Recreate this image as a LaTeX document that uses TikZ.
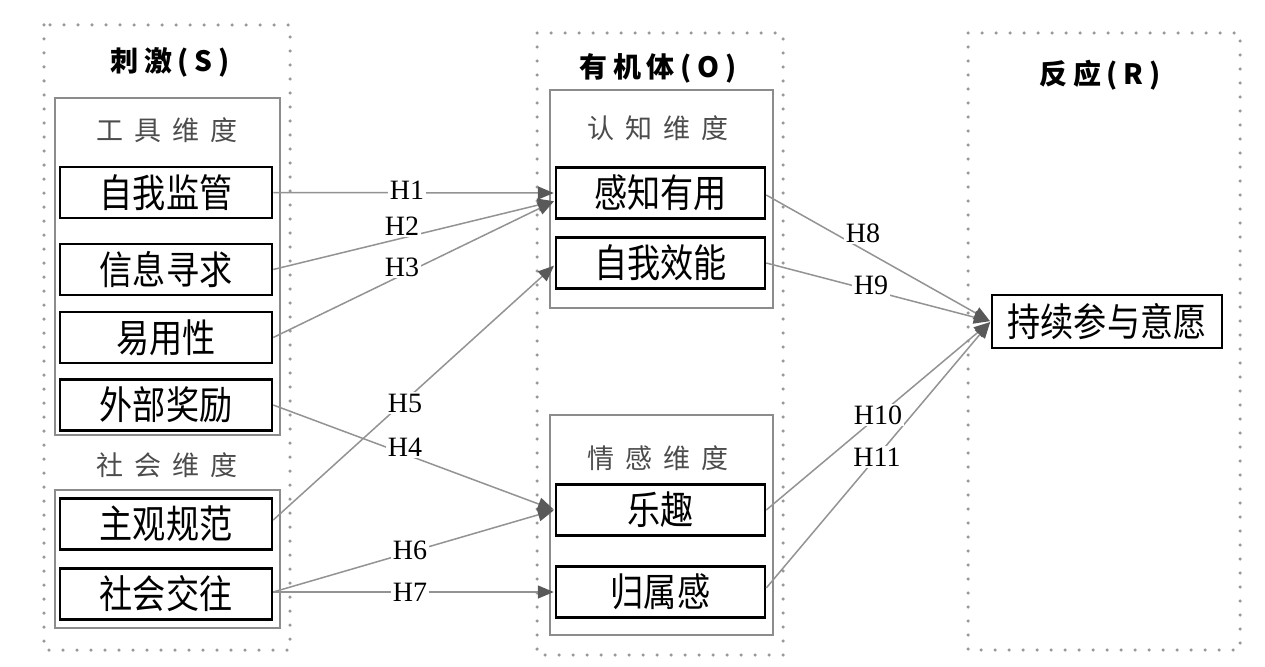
\documentclass[tikz,border=0pt]{standalone}
\usepackage{fontspec}
\usetikzlibrary{arrows.meta}
\newfontfamily\cjkbox[FakeStretch=0.85]{Noto Sans CJK SC}
\newfontfamily\cjkdim[LetterSpace=40]{Noto Sans CJK SC}
\newfontfamily\cjktitle[LetterSpace=20]{Noto Sans CJK SC}
\newfontfamily\hfont{Liberation Serif}
\begin{document}
\begin{tikzpicture}[x=1pt,y=-1pt,
  outer/.style={draw=gray!80, line width=3.5pt, dash pattern=on 0pt off 14pt, line cap=round},
  grp/.style={draw=gray!90, line width=2pt},
  box/.style={draw=black, line width=2.5pt, minimum height=51pt, inner sep=0pt, font=\fontsize{39}{44}\cjkbox},
  sbox/.style={box, minimum width=212pt},
  obox/.style={box, minimum width=209pt},
  title/.style={font=\fontsize{28}{32}\cjktitle\bfseries, text=black},
  dim/.style={font=\fontsize{27}{30}\cjkdim, text=black!70},
  arr/.style={draw=gray!85, line width=1.5pt, -{Triangle[length=16pt,width=13pt,color=gray!70!black]}, shorten >=1pt},
  lab/.style={fill=white, inner sep=1.5pt, font=\fontsize{28}{30}\hfont}
]
\useasboundingbox (0,0) rectangle (1265,666);
\fill[white] (0,0) rectangle (1265,666);

% outer dotted containers
\draw[outer] (44,25) rectangle (290,650);
\draw[outer] (537,33) rectangle (783,655);
\draw[outer] (968,33) rectangle (1240,650);

% group boxes
\draw[grp] (55,98) rectangle (280,435);
\draw[grp] (55,490) rectangle (280,628);
\draw[grp] (550,90) rectangle (773,308);
\draw[grp] (550,415) rectangle (773,635);

% titles
\node[title] (tS) at (170,62) {刺激(S)};
\node[title] (tO) at (658,68) {有机体(O)};
\node[title] (tR) at (1100,75) {反应(R)};
\node[dim] (d1) at (167,130) {工具维度};
\node[dim] (d2) at (167,465) {社会维度};
\node[dim] (d3) at (658,128) {认知维度};
\node[dim] (d4) at (658,458) {情感维度};

% stimulus boxes
\node[sbox] (s1) at (166,192.5) {自我监管};
\node[sbox] (s2) at (166,269.5) {信息寻求};
\node[sbox] (s3) at (166,337.5) {易用性};
\node[sbox] (s4) at (166,405) {外部奖励};
\node[sbox] (s5) at (166,524) {主观规范};
\node[sbox] (s6) at (166,594) {社会交往};

% organism boxes
\node[obox] (o1) at (660.5,193) {感知有用};
\node[obox] (o2) at (660.5,263) {自我效能};
\node[obox] (o3) at (660.5,510) {乐趣};
\node[obox] (o4) at (660.5,592) {归属感};

% response box
\node[box, minimum width=230pt, minimum height=53pt] (r) at (1107,321.5) {持续参与意愿};

% connectors
\draw[arr] (s1.east) -- (o1.west);
\draw[arr] (s2.east) -- ([yshift=-8pt]o1.west);
\draw[arr] (s3.east) -- ([yshift=-8pt]o1.west);
\draw[arr] ([yshift=4pt]s5.east) -- ([yshift=-2pt]o2.west);
\draw[arr] (s4.east) -- (o3.west);
\draw[arr] ([yshift=2pt]s6.east) -- (o3.west);
\draw[arr] ([yshift=2pt]s6.east) -- (o4.west);
\draw[arr] ([yshift=-2pt]o1.east) -- (r.west);
\draw[arr] (o2.east) -- (r.west);
\draw[arr] (o3.east) -- (r.west);
\draw[arr] ([yshift=4pt]o4.east) -- (r.west);

% labels
\node[lab] (h1) at (407,190) {H1};
\node[lab] (h2) at (402,226) {H2};
\node[lab] (h3) at (402,267) {H3};
\node[lab] (h5) at (405,403) {H5};
\node[lab] (h4) at (405,447) {H4};
\node[lab] (h6) at (410,550) {H6};
\node[lab] (h7) at (410,592) {H7};
\node[lab] (h8) at (863,233) {H8};
\node[lab] (h9) at (871,285) {H9};
\node[lab] (h10) at (878,415) {H10};
\node[lab] (h11) at (877,457) {H11};
\end{tikzpicture}
\end{document}
